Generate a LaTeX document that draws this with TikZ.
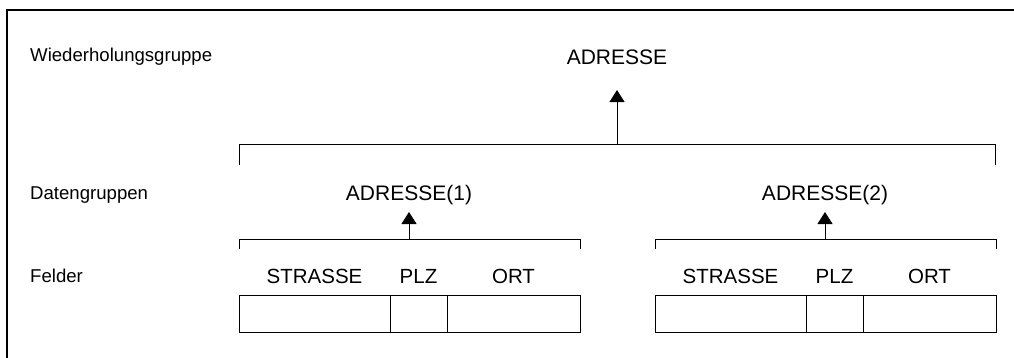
\documentclass[tikz,border=0pt]{standalone}
\usepackage{fontspec}
\setmainfont{Liberation Sans}
\usetikzlibrary{arrows.meta}
\begin{document}
\begin{tikzpicture}[x=1pt,y=-1pt,
  lbl/.style={font=\fontsize{18.6}{22}\selectfont, inner sep=0pt, anchor=west},
  ttl/.style={font=\fontsize{21}{24}\selectfont, inner sep=0pt},
  fld/.style={font=\fontsize{20.5}{24}\selectfont, inner sep=0pt},
  cell/.style={draw, line width=1pt, minimum height=37pt, inner sep=0pt, anchor=north west},
  brk/.style={line width=1pt},
  up/.style={line width=1pt, -{Triangle[width=15pt,length=12pt]}}
]
\useasboundingbox (0,0) rectangle (1014,357);
\draw[line width=2pt] (7,360) -- (7,10) -- (1016,10);

% row labels
\node[lbl] (wg) at (30,57) {Wiederholungsgruppe};
\node[lbl] (dg) at (30,195) {Datengruppen};
\node[lbl] (fe) at (30,276) {Felder};

% level 1
\node[ttl] (adr) at (617,57) {ADRESSE};
\coordinate (adrtip) at (617,90);
\coordinate (b0) at (617,144);
\draw[brk] (239,165) -- (239,144) -- (995,144) -- (995,165);
\draw[up] (b0) -- (adrtip);

% level 2
\node[ttl] (adr1) at (409,195) {ADRESSE(1)};
\node[ttl] (adr2) at (825,195) {ADRESSE(2)};
\coordinate (adr1tip) at (409,212);
\coordinate (adr2tip) at (825,212);
\coordinate (b1) at (409,239);
\coordinate (b2) at (825,239);
\draw[brk] (239,249) -- (239,239) -- (580,239) -- (580,249);
\draw[brk] (655,249) -- (655,239) -- (996,239) -- (996,249);
\draw[up] (b1) -- (adr1tip);
\draw[up] (b2) -- (adr2tip);

% fields group 1
\node[cell, minimum width=151pt] (s1) at (239,295) {};
\node[cell, minimum width=57pt] (p1) at (390,295) {};
\node[cell, minimum width=133pt] (o1) at (447,295) {};
\node[fld] at (314.5,276) {STRASSE};
\node[fld] at (418.5,276) {PLZ};
\node[fld] at (513.5,276) {ORT};

% fields group 2
\node[cell, minimum width=151pt] (s2) at (655,295) {};
\node[cell, minimum width=57pt] (p2) at (806,295) {};
\node[cell, minimum width=133pt] (o2) at (863,295) {};
\node[fld] at (730.5,276) {STRASSE};
\node[fld] at (834.5,276) {PLZ};
\node[fld] at (929.5,276) {ORT};
\end{tikzpicture}
\end{document}
